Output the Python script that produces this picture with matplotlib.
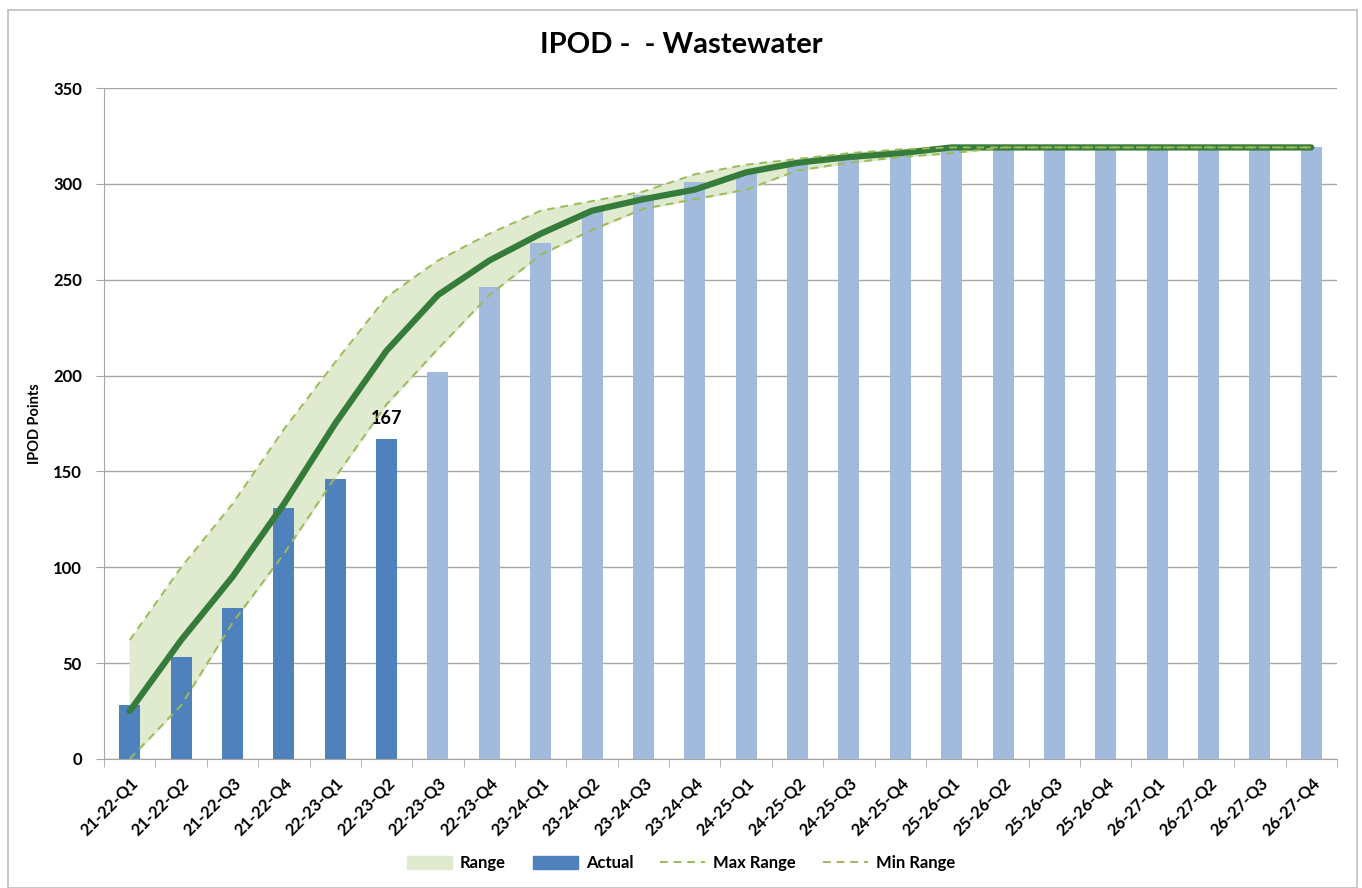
import numpy as np
import matplotlib.pyplot as plt
from matplotlib.patches import Patch, Rectangle
from matplotlib.lines import Line2D

plt.rcParams['font.family'] = ['Lato', 'DejaVu Sans']

quarters = ["21-22-Q1", "21-22-Q2", "21-22-Q3", "21-22-Q4",
            "22-23-Q1", "22-23-Q2", "22-23-Q3", "22-23-Q4",
            "23-24-Q1", "23-24-Q2", "23-24-Q3", "23-24-Q4",
            "24-25-Q1", "24-25-Q2", "24-25-Q3", "24-25-Q4",
            "25-26-Q1", "25-26-Q2", "25-26-Q3", "25-26-Q4",
            "26-27-Q1", "26-27-Q2", "26-27-Q3", "26-27-Q4"]

# bars : actual (dark) then projected (light)
actual = [28, 53, 79, 131, 146, 167]
projected = [202, 246, 269, 286, 294, 301, 305, 310, 313, 315, 318,
             319, 319, 319, 319, 319, 319, 319]

target = [25, 62, 95, 133, 175, 213, 242, 260, 274, 286, 292, 297,
          306, 311, 314, 316, 319, 319, 319, 319, 319, 319, 319, 319]
max_range = [62, 100, 133, 172, 207, 241, 260, 274, 286, 291, 296, 305,
             310, 313, 316, 318, 319, 319, 319, 319, 319, 319, 319, 319]
min_range = [0, 28, 71, 107, 147, 185, 214, 242, 263, 276, 287, 292,
             297, 307, 311, 314, 316, 319, 319, 319, 319, 319, 319, 319]

c_actual = "#4F81BD"
c_proj = "#A2BBDC"
c_fill = "#E0EACE"
c_line = "#357B3A"
c_dash = "#9BBB59"

fig = plt.figure(figsize=(13.62, 8.88), dpi=100)
fig.patches.append(Rectangle((0.006, 0.0), 0.990, 0.989, transform=fig.transFigure,
                             fill=False, edgecolor="#BFBFBF", linewidth=1.2))
ax = fig.add_axes([0.0764, 0.1453, 0.9052, 0.7556])

x = np.arange(len(quarters))
n_act = len(actual)

ax.fill_between(x, min_range, max_range, color=c_fill, zorder=1)
ax.bar(x[:n_act], actual, width=0.41, color=c_actual, zorder=2)
ax.bar(x[n_act:], projected, width=0.41, color=c_proj, zorder=2)
ax.plot(x, target, color=c_line, linewidth=4.5, solid_capstyle='round', zorder=3)
ax.plot(x, max_range, color=c_dash, linewidth=1.4, linestyle=(0, (4, 3)), zorder=4)
ax.plot(x, min_range, color=c_dash, linewidth=1.4, linestyle=(0, (4, 3)), zorder=4)

ax.text(x[n_act - 1], actual[-1] + 6, str(actual[-1]), ha='center', va='bottom',
        fontsize=13, fontweight='bold')

ax.set_xlim(-0.5, len(quarters) - 0.5)
ax.set_ylim(0, 350)
ax.set_yticks(np.arange(0, 351, 50))
ax.yaxis.grid(True, color="#A6A6A6", linewidth=1.0)
ax.set_axisbelow(True)

ax.set_xticks(x)
ax.set_xticklabels(quarters, rotation=45, ha='right', rotation_mode='anchor',
                   fontsize=12, fontweight='bold')
ax.set_xticks(np.arange(-0.5, len(quarters), 1), minor=True)
ax.tick_params(axis='x', which='major', length=0, pad=11)
ax.tick_params(axis='x', which='minor', length=6, color="#A6A6A6")
ax.tick_params(axis='y', length=6, color="#A6A6A6", labelsize=12, pad=10)
for lab in ax.get_yticklabels():
    lab.set_fontweight('bold')

for s in ['top', 'right']:
    ax.spines[s].set_visible(False)
ax.spines['left'].set_color("#A6A6A6")
ax.spines['bottom'].set_color("#A6A6A6")

ax.set_ylabel("IPOD Points", fontsize=10.5, fontweight='bold')
ax.yaxis.set_label_coords(-0.05, 0.5)
fig.text(0.5, 0.949, "IPOD -  - Wastewater", ha='center', va='center',
         fontsize=21, fontweight='bold')

handles = [Patch(color=c_fill, label="Range"),
           Patch(color=c_actual, label="Actual"),
           Line2D([], [], color=c_dash, linestyle=(0, (4, 3)), linewidth=1.4, label="Max Range"),
           Line2D([], [], color=c_dash, linestyle=(0, (4, 3)), linewidth=1.4, label="Min Range")]
fig.legend(handles=handles, loc='center', bbox_to_anchor=(0.5, 0.028), ncol=4,
           frameon=False, prop={'weight': 'bold', 'size': 12},
           handlelength=2.7, handleheight=0.8, handletextpad=0.5, columnspacing=1.6)

fig.savefig("out.png", dpi=100)
